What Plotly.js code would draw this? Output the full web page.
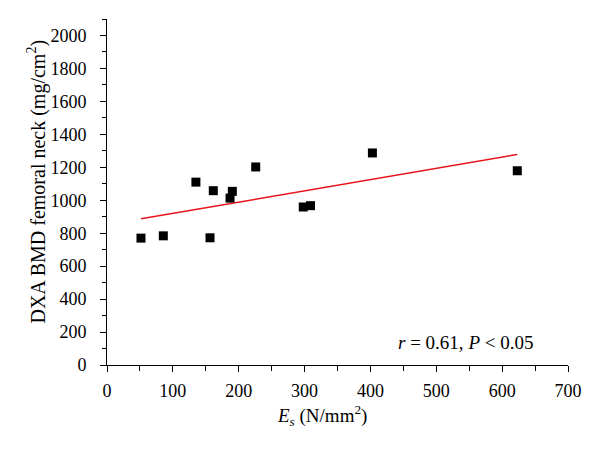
<!DOCTYPE html>
<html><head><meta charset="utf-8">
<script src="https://cdn.plot.ly/plotly-3.0.1.min.js"></script>
<style>body{margin:0;background:#fff}#chart{width:600px;height:450px}</style>
</head><body><div id="chart"></div>
<script>
const esValues = [51.6, 85.5, 135, 156.4, 161.4, 190.3, 186.8, 225.8, 298, 309, 403, 623];
const bmdValues = [770, 784, 1110, 772, 1058, 1054, 1013, 1202, 959, 967, 1287, 1179];
const xTicks = [0, 100, 200, 300, 400, 500, 600, 700];
const yTicks = [0, 200, 400, 600, 800, 1000, 1200, 1400, 1600, 1800, 2000];
const xTitle = '<i>E</i><sub><i>s</i></sub> (N/mm<sup>2</sup>)';
const yTitle = 'DXA BMD femoral neck (mg/cm<sup>2</sup>)';
const statText = '<i>r</i> = 0.61, <i>P</i> < 0.05';

// least-squares fit from the data
const n = esValues.length;
const mx = esValues.reduce((a,b)=>a+b,0)/n;
const my = bmdValues.reduce((a,b)=>a+b,0)/n;
let sxy=0, sxx=0;
for (let i=0;i<n;i++){ sxy+=(esValues[i]-mx)*(bmdValues[i]-my); sxx+=(esValues[i]-mx)**2; }
const slope = sxy/sxx, icpt = my - slope*mx;
const xmin = Math.min(...esValues), xmax = Math.max(...esValues);
const fitX = [xmin, xmax];
const fitY = fitX.map(x => icpt + slope*x);

const FAM = 'Liberation Serif, Times New Roman, serif';
const f = (s) => ({family: FAM, size: s, color: '#000'});
const traces = [
  {x: fitX, y: fitY, mode: 'lines', line: {color: '#e8141b', width: 1.5}, hoverinfo: 'skip'},
  {x: esValues, y: bmdValues, mode: 'markers', marker: {symbol: 'square', size: 9, color: '#000'}}
];
const layout = {
  width: 600, height: 450,
  margin: {l: 107, r: 32, t: 19, b: 85},
  showlegend: false,
  plot_bgcolor: '#fff', paper_bgcolor: '#fff',
  font: f(18),
  xaxis: {
    range: [0, 700], tickvals: xTicks, ticktext: xTicks.map(String),
    showgrid: false, zeroline: false, showline: true, linecolor: '#000', linewidth: 1,
    ticks: 'outside', ticklen: 6, tickcolor: '#000', tickwidth: 1,
    minor: {dtick: 50, ticks: 'outside', ticklen: 5, tickcolor: '#000', showgrid: false},
    tickfont: f(18),
    ticklabelstandoff: 3,
    automargin: false
  },
  yaxis: {
    range: [0, 2100], tickvals: yTicks, ticktext: yTicks.map(String),
    showgrid: false, zeroline: false, showline: true, linecolor: '#000', linewidth: 1,
    ticks: 'outside', ticklen: 6, tickcolor: '#000', tickwidth: 1,
    minor: {dtick: 100, ticks: 'outside', ticklen: 4, tickcolor: '#000', showgrid: false},
    tickfont: f(18),
    ticklabelstandoff: 10,
    automargin: false
  },
  annotations: [
    {x: 650, y: 134, xref: 'x', yref: 'y', xanchor: 'right', yanchor: 'middle', showarrow: false,
     text: statText, font: f(19)},
    {x: 0.466, y: -0.145, xref: 'paper', yref: 'paper', xanchor: 'center', yanchor: 'middle', showarrow: false,
     text: xTitle, font: f(19)},
    {x: -0.152, y: 0.53, xref: 'paper', yref: 'paper', xanchor: 'center', yanchor: 'middle', showarrow: false,
     textangle: -90, text: yTitle, font: f(20)}
  ]
};
Plotly.newPlot('chart', traces, layout, {displayModeBar: false, staticPlot: true});
</script></body></html>
